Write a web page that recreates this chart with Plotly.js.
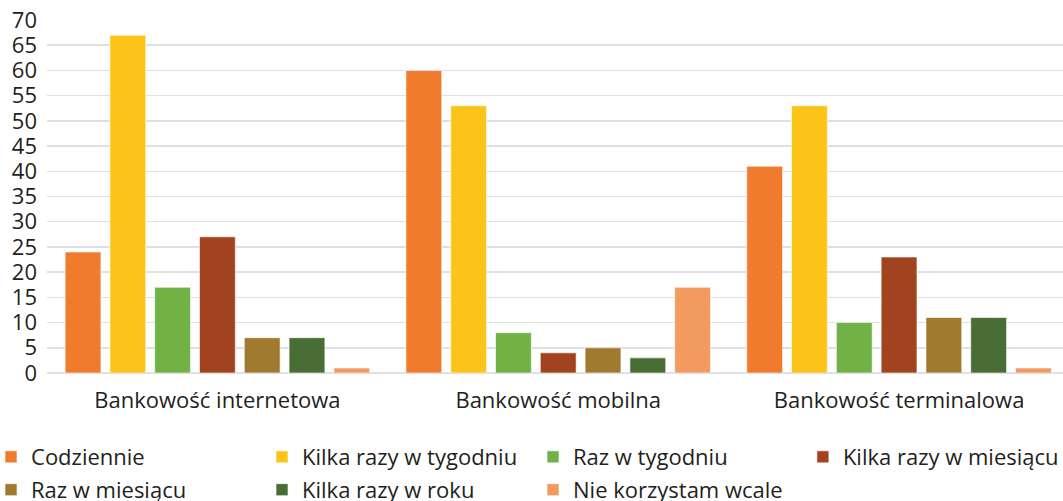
<!DOCTYPE html>
<html>
<head>
<meta charset="utf-8">
<script src="https://cdn.plot.ly/plotly-3.0.1.min.js"></script>
<style>html,body{margin:0;padding:0;background:#fff;}#chart{width:1063px;height:501px;}</style>
</head>
<body>
<div id="chart"></div>
<script>
const categories = ["Bankowość internetowa", "Bankowość mobilna", "Bankowość terminalowa"];
const seriesNames = ["Codziennie", "Kilka razy w tygodniu", "Raz w tygodniu", "Kilka razy w miesiącu", "Raz w miesiącu", "Kilka razy w roku", "Nie korzystam wcale"];
const codziennie = [24, 60, 41];
const kilkaRazyWTygodniu = [67, 53, 53];
const razWTygodniu = [17, 8, 10];
const kilkaRazyWMiesiacu = [27, 4, 23];
const razWMiesiacu = [7, 5, 11];
const kilkaRazyWRoku = [7, 3, 11];
const nieKorzystam = [1, 17, 1];
const yTicks = [0, 5, 10, 15, 20, 25, 30, 35, 40, 45, 50, 55, 60, 65, 70];

const seriesValues = [codziennie, kilkaRazyWTygodniu, razWTygodniu, kilkaRazyWMiesiacu, razWMiesiacu, kilkaRazyWRoku, nieKorzystam];
const colors = ["#F17B2C", "#FCC419", "#71B146", "#A2431F", "#A07A2E", "#4A6D35", "#F39A60"];
const legendOf = ["legend", "legend", "legend", "legend3", "legend2", "legend2", "legend2"];

const traces = seriesNames.map((name, i) => ({
  type: "bar",
  name: name,
  x: categories,
  y: seriesValues[i],
  legend: legendOf[i],
  marker: { color: colors[i], line: { color: "rgba(255,255,255,0.6)", width: 1 } },
  hoverinfo: "none"
}));

const font = "'Open Sans', 'Noto Sans', sans-serif";
const txt = "#231F20";

const legendBase = {
  orientation: "h",
  xref: "paper",
  yref: "paper",
  xanchor: "left",
  yanchor: "middle",
  entrywidth: 226,
  entrywidthmode: "pixels",
  itemwidth: 30,
  bgcolor: "rgba(0,0,0,0)",
  font: { family: font, size: 22, color: txt },
  traceorder: "normal"
};

const layout = {
  width: 1063,
  height: 501,
  margin: { l: 47, r: 0, t: 20, b: 128, autoexpand: false },
  paper_bgcolor: "#ffffff",
  plot_bgcolor: "#ffffff",
  barmode: "group",
  bargap: 0.08,
  bargroupgap: 0.2,
  showlegend: true,
  font: { family: font, size: 22, color: txt },
  xaxis: {
    range: [-0.5, 2.481],
    showgrid: false,
    showline: false,
    ticks: "",
    ticklabelstandoff: 12,
    tickfont: { family: font, size: 22, color: txt },
    automargin: false,
    fixedrange: true
  },
  yaxis: {
    range: [0, 70],
    tickvals: yTicks,
    ticktext: yTicks.map(String),
    showgrid: true,
    gridcolor: "#DDE1E6",
    gridwidth: 1.5,
    zeroline: true,
    zerolinecolor: "#DDE1E6",
    zerolinewidth: 1.5,
    showline: false,
    ticks: "",
    ticklabelstandoff: 9,
    tickfont: { family: font, size: 22, color: txt },
    automargin: false,
    fixedrange: true
  },
  legend: Object.assign({}, legendBase, { x: -0.0551, y: -0.238 }),
  legend3: Object.assign({}, legendBase, { x: 0.744, y: -0.238 }),
  legend2: Object.assign({}, legendBase, { x: -0.0551, y: -0.331 })
};

Plotly.newPlot("chart", traces, layout, { displayModeBar: false, staticPlot: true });
</script>
</body>
</html>
